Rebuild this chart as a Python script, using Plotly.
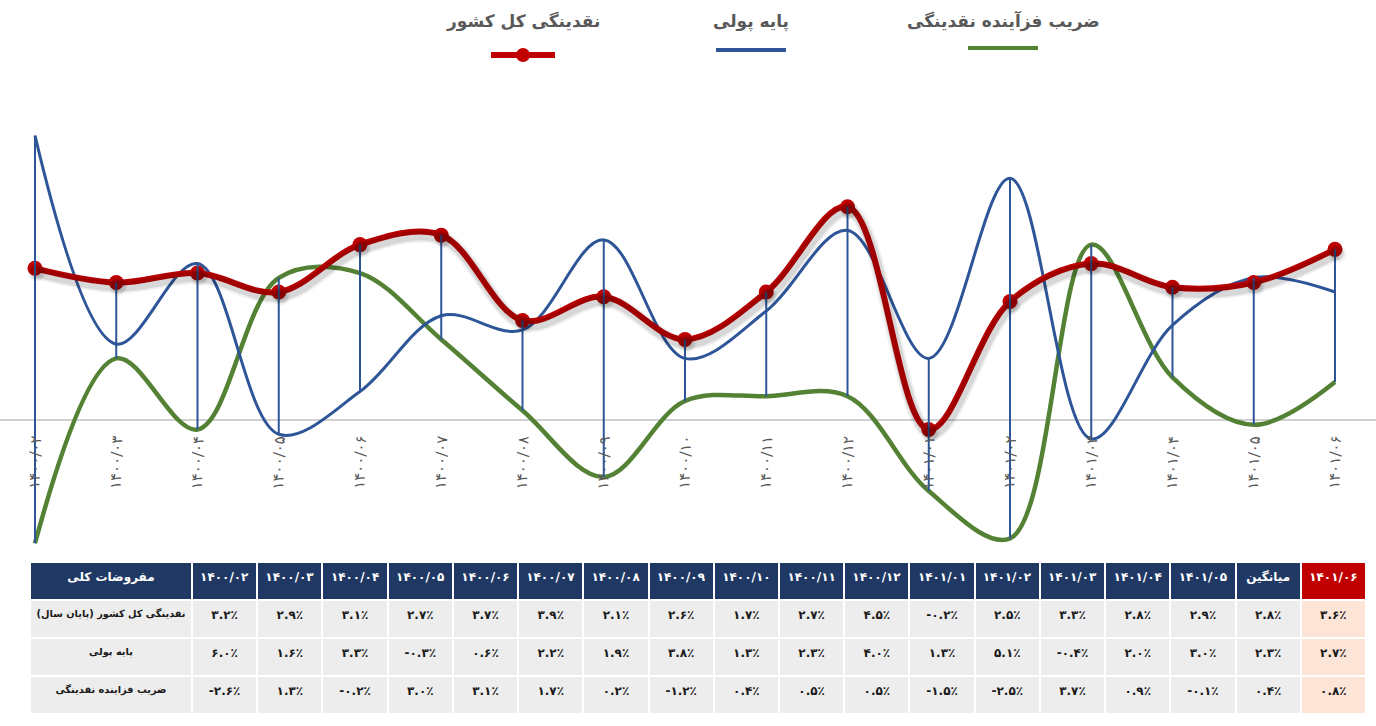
import plotly.graph_objects as go

# ---------------- data ----------------
periods = ["1400/02", "1400/03", "1400/04", "1400/05", "1400/06", "1400/07",
           "1400/08", "1400/09", "1400/10", "1400/11", "1400/12", "1401/01",
           "1401/02", "1401/03", "1401/04", "1401/05", "1401/06"]

liquidity = [3.2, 2.9, 3.1, 2.7, 3.7, 3.9, 2.1, 2.6, 1.7, 2.7, 4.5, -0.2,
             2.5, 3.3, 2.8, 2.9, 3.6]
monetary_base = [6.0, 1.6, 3.3, -0.3, 0.6, 2.2, 1.9, 3.8, 1.3, 2.3, 4.0, 1.3,
                 5.1, -0.4, 2.0, 3.0, 2.7]
multiplier = [-2.6, 1.3, -0.2, 3.0, 3.1, 1.7, 0.2, -1.2, 0.4, 0.5, 0.5, -1.5,
              -2.5, 3.7, 0.9, -0.1, 0.8]

averages = [2.8, 2.3, 0.4]   # میانگین column (liquidity, base, multiplier)

name_liq = "نقدینگی کل کشور"
name_base = "پایه پولی"
name_mult = "ضریب فزآینده نقدینگی"

row_labels = ["نقدینگی کل کشور (پایان سال)", "پایه پولی", "ضریب فزاینده نقدینگی"]
header_first = "مفروضات کلی"
avg_label = "میانگین"

# ---------------- helpers ----------------
FA = str.maketrans("0123456789", "۰۱۲۳۴۵۶۷۸۹")


def fa(s):
    return str(s).translate(FA)


def pct(v):
    return fa(f"{v:.1f}") + "٪"


def nobreak(s):
    return "\u200f" + s.replace(" ", "\u00a0") + "\u200f"


RED = "#c00000"
BLUE = "#2e5597"
GREEN = "#548235"
GRAY_TXT = "#595959"
FONT = "DejaVu Sans"

W, H = 1376, 726

# axis geometry (pixels)
x_first_px, x_last_px = 35, 1335
n = len(periods)
units_per_px_x = (n - 1) / (x_last_px - x_first_px)
x_r0 = -x_first_px * units_per_px_x
x_r1 = x_r0 + W * units_per_px_x

plot_top_px, plot_bottom_px = 95, 562
zero_px = 420
px_per_unit_y = 47.4
y_r0 = (zero_px - plot_bottom_px) / px_per_unit_y
y_r1 = (zero_px - plot_top_px) / px_per_unit_y
ydom = [(H - plot_bottom_px) / H, (H - plot_top_px) / H]

fig = go.Figure()

# shadow of the red series (offset axes)
for w, a in [(14, 0.06), (10, 0.10)]:
    fig.add_trace(go.Scatter(
        x=periods, y=liquidity, mode="lines+markers", xaxis="x2", yaxis="y2",
        line=dict(color=f"rgba(0,0,0,{a})", width=w, shape="spline", smoothing=1),
        marker=dict(size=14 + (w - 10), color=f"rgba(0,0,0,{a})"),
        hoverinfo="skip", showlegend=False))

fig.add_trace(go.Scatter(
    x=periods, y=multiplier, mode="lines", name=name_mult,
    line=dict(color=GREEN, width=4.5, shape="spline", smoothing=1),
    showlegend=False))

fig.add_trace(go.Scatter(
    x=periods, y=monetary_base, mode="lines", name=name_base,
    line=dict(color=BLUE, width=3, shape="spline", smoothing=1),
    showlegend=False))

fig.add_trace(go.Scatter(
    x=periods, y=liquidity, mode="lines+markers", name=name_liq,
    line=dict(color=RED, width=6, shape="spline", smoothing=1),
    marker=dict(size=15, color=RED),
    showlegend=False))

# high-low lines
hx, hy = [], []
for p, a, b, c in zip(periods, liquidity, monetary_base, multiplier):
    hx += [p, p, None]
    hy += [max(a, b, c), min(a, b, c), None]
fig.add_trace(go.Scatter(
    x=hx, y=hy, mode="lines", line=dict(color=BLUE, width=2),
    hoverinfo="skip", showlegend=False))

# ---------------- table ----------------
header_vals = [f"<b>{nobreak(header_first)}</b>"] + [f"<b>{fa(p)}</b>" for p in periods[:-1]] \
    + [f"<b>{avg_label}</b>", f"<b>{fa(periods[-1])}</b>"]
cols = [[f"<b>{nobreak(r)}</b>" for r in row_labels]]
for i in range(n - 1):
    cols.append([f"<b>{pct(s[i])}</b>" for s in (liquidity, monetary_base, multiplier)])
cols.append([f"<b>{pct(v)}</b>" for v in averages])
cols.append([f"<b>{pct(s[-1])}</b>" for s in (liquidity, monetary_base, multiplier)])

ncols = len(header_vals)
header_fill = ["#1f3864"] * (ncols - 1) + [RED]
cell_fill = ["#ededed"] * (ncols - 1) + ["#fce4d6"]

tbl_left, tbl_right, tbl_top, tbl_bottom = 30, 1366, 562, 720
first_w = 162
other_w = (tbl_right - tbl_left - first_w) / (ncols - 1)

fig.add_trace(go.Table(
    domain=dict(x=[tbl_left / W, tbl_right / W], y=[(H - tbl_bottom) / H, (H - tbl_top) / H]),
    columnwidth=[first_w] + [other_w] * (ncols - 1),
    header=dict(values=header_vals, fill_color=header_fill,
                line=dict(color="white", width=2), align="center", height=38,
                font=dict(color="white", size=12, family=FONT)),
    cells=dict(values=cols, fill_color=cell_fill,
               line=dict(color="white", width=2), align="center", height=38,
               font=dict(color="#1a1a1a", size=[9.8] + [12] * (ncols - 1), family=FONT)),
))

# ---------------- x labels (at zero line) ----------------
annotations = []
for p in periods:
    annotations.append(dict(
        x=p, y=0, xref="x", yref="y", text=fa(p), showarrow=False,
        textangle=-88, yanchor="top", xanchor="center", yshift=-14,
        font=dict(size=15, color=GRAY_TXT, family=FONT)))

# ---------------- legend (text above symbol) ----------------
legend_items = [(name_liq, RED, 523, 55, True),
                (name_base, BLUE, 751, 50, False),
                (name_mult, GREEN, 1003, 48, False)]
shapes = []
for txt, col, cx, ly, has_marker in legend_items:
    annotations.append(dict(
        x=cx / W, y=1 - 21 / H, xref="paper", yref="paper", text=f"<b>{txt}</b>",
        showarrow=False, xanchor="center", yanchor="middle",
        font=dict(size=17, color=GRAY_TXT, family=FONT)))
    half = 32 if has_marker else 35
    shapes.append(dict(type="line", xref="paper", yref="paper",
                       x0=(cx - half) / W, x1=(cx + half) / W,
                       y0=1 - ly / H, y1=1 - ly / H,
                       line=dict(color=col, width=6 if has_marker else 4)))
    if has_marker:
        r = 7
        shapes.append(dict(type="circle", xref="paper", yref="paper",
                           x0=(cx - r) / W, x1=(cx + r) / W,
                           y0=1 - (ly + r) / H, y1=1 - (ly - r) / H,
                           fillcolor=col, line=dict(color=col, width=0)))

shift_x = 2 * units_per_px_x
shift_y = 4 / px_per_unit_y

fig.update_layout(
    width=W, height=H,
    margin=dict(l=0, r=0, t=0, b=0),
    paper_bgcolor="white", plot_bgcolor="white",
    showlegend=False,
    xaxis=dict(type="category", categoryorder="array", categoryarray=periods,
               range=[x_r0, x_r1], domain=[0, 1], showticklabels=False,
               showgrid=False, zeroline=False, showline=False, fixedrange=True),
    yaxis=dict(range=[y_r0, y_r1], domain=ydom, showticklabels=False,
               showgrid=False, zeroline=True, zerolinecolor="#d0d0d0",
               zerolinewidth=2, showline=False, fixedrange=True),
    xaxis2=dict(type="category", categoryorder="array", categoryarray=periods,
                overlaying="x", range=[x_r0 - shift_x, x_r1 - shift_x],
                domain=[0, 1], visible=False, anchor="y2"),
    yaxis2=dict(overlaying="y", range=[y_r0 + shift_y, y_r1 + shift_y],
                domain=ydom, visible=False, anchor="x2"),
    annotations=annotations,
    shapes=shapes,
    font=dict(family=FONT),
)

fig.write_html("out.html")
